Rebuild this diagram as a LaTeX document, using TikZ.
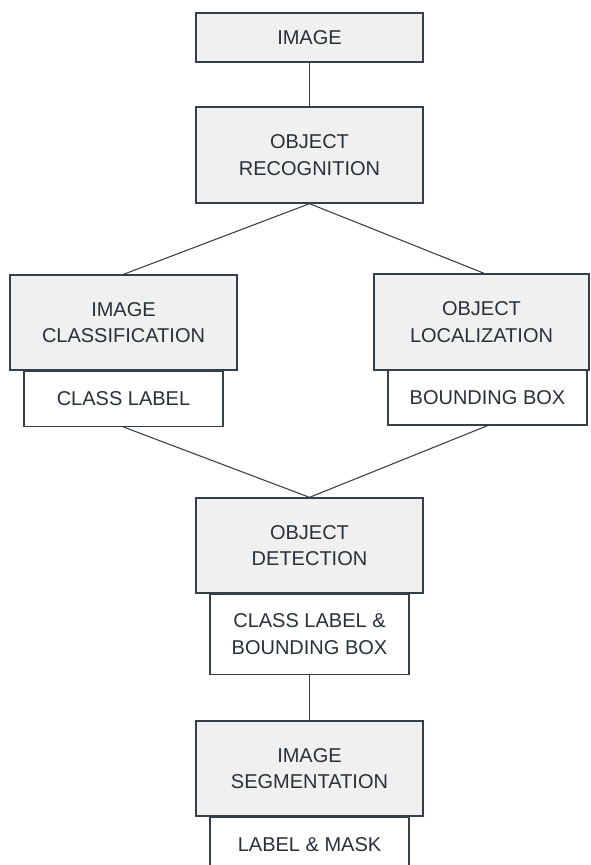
\documentclass[tikz,border=0pt]{standalone}
\usepackage{fontspec}
\setmainfont{Liberation Sans}
\usepackage{xcolor}
\usepackage{tikz}
\usetikzlibrary{positioning}
\definecolor{boxfill}{RGB}{240,240,240}
\definecolor{boxline}{RGB}{52,64,72}
\definecolor{txtclr}{RGB}{38,50,56}
\tikzset{
  task/.style={rectangle,draw=boxline,line width=1pt,fill=boxfill,
               minimum width=170.25pt,minimum height=71.25pt,
               align=center,inner sep=0pt,text=txtclr},
  outbox/.style={rectangle,draw=boxline,line width=1pt,fill=white,
               minimum width=149.25pt,minimum height=41.25pt,
               align=center,inner sep=0pt,text=txtclr},
  link/.style={draw=boxline,line width=0.8pt},
}

\begin{document}
\begin{tikzpicture}[x=0.75pt, y=-0.75pt, font=\fontsize{15}{20}\selectfont,
                    node distance=0pt]
\useasboundingbox (0,0) rectangle (590,865);
\clip (0,0) rectangle (590,865);

\node[task, minimum height=36.75pt] (img) at (309.5,37.5) {IMAGE};
\node[task, minimum height=72pt] (recog) at (309.5,155) {OBJECT\\RECOGNITION};

\node[task] (classif) at (123.5,322.5) {IMAGE\\CLASSIFICATION};
\node[outbox, below=of classif] (classlbl) {CLASS LABEL};

\node[task, minimum width=161.25pt, minimum height=72pt] (local) at (481.5,322) {OBJECT\\LOCALIZATION};
\node[outbox] (bbox) at (487.5,397.5) {BOUNDING BOX};

\node[task] (detect) at (309.5,545.5) {OBJECT\\DETECTION};
\node[outbox, minimum height=60pt, below=of detect] (detout) {CLASS LABEL \&\\BOUNDING BOX};

\node[task] (seg) at (309.5,768.5) {IMAGE\\SEGMENTATION};
\node[outbox, below=of seg] (segout) {LABEL \& MASK};

\draw[link] (img.south) -- (recog.north);
\draw[link] (recog.south) -- ([xshift=2pt]local.north);
\draw[link] (recog.south) -- (classif.north);
\draw[link] (classlbl.south) -- (detect.north);
\draw[link] (bbox.south) -- (detect.north);
\draw[link] (detout.south) -- (seg.north);
\end{tikzpicture}
\end{document}
